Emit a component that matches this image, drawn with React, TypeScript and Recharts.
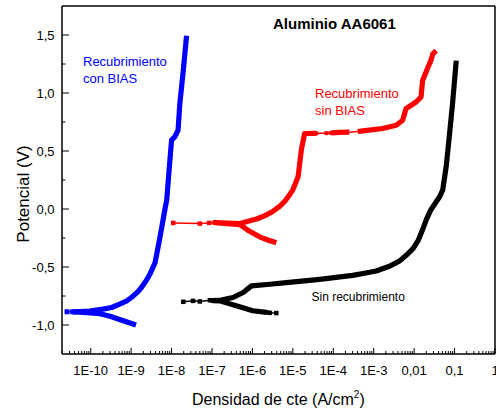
import React from 'react';
import { LineChart, Line, XAxis, YAxis, ReferenceLine } from 'recharts';

const FONT = '"Liberation Sans", Arial, Helvetica, sans-serif';

// ---- Recubrimiento con BIAS (blue) ----
const conBiasCurrent = [1.32e-9, 6.4e-10, 3.0e-10, 1.7e-10, 6.5e-11, 4.1e-11, 9.5e-11, 2.0e-10, 3.3e-10, 5.2e-10, 7.6e-10, 1.02e-9, 1.45e-9, 1.8e-9, 2.35e-9, 2.9e-9, 3.4e-9, 3.9e-9, 4.7e-9, 5.6e-9, 6.6e-9, 7.6e-9, 8.7e-9, 1.0e-8, 1.2e-8, 1.45e-8, 1.6e-8, 1.95e-8, 2.35e-8];
const conBiasPotential = [-1.0, -0.963, -0.925, -0.903, -0.891, -0.887, -0.88, -0.863, -0.849, -0.82, -0.795, -0.763, -0.715, -0.677, -0.619, -0.563, -0.51, -0.463, -0.32, -0.177, -0.034, 0.08, 0.337, 0.594, 0.622, 0.68, 0.908, 1.194, 1.494];
const conBiasSparseCurrent = [4.1e-11, 3.6e-11, 2.6e-11];
const conBiasSparsePotential = [-0.887, -0.886, -0.886];

// ---- Recubrimiento sin BIAS (red) ----
const sinBiasACurrent = [3.9e-6, 2.4e-6, 1.5e-6, 8.5e-7, 4.9e-7, 1.17e-7, 4.9e-7, 1.26e-6, 2.04e-6, 3.2e-6, 4.8e-6, 6.3e-6, 8.3e-6, 1.0e-5, 1.15e-5, 1.35e-5, 1.62e-5, 1.95e-5, 3.8e-5];
const sinBiasAPotential = [-0.291, -0.267, -0.24, -0.192, -0.134, -0.117, -0.125, -0.086, -0.057, -0.021, 0.024, 0.065, 0.123, 0.165, 0.217, 0.279, 0.508, 0.651, 0.652];
const sinBiasGap1Current = [3.8e-5, 6.8e-5, 8.9e-5];
const sinBiasGap1Potential = [0.652, 0.654, 0.656];
const sinBiasBCurrent = [8.9e-5, 1.45e-4, 2.5e-4];
const sinBiasBPotential = [0.656, 0.66, 0.662];
const sinBiasGap2Current = [2.5e-4, 4.0e-4];
const sinBiasGap2Potential = [0.662, 0.668];
const sinBiasCCurrent = [4.0e-4, 5.4e-4, 1.66e-3, 3.6e-3, 5.2e-3, 5.8e-3, 6.3e-3, 1.12e-2, 1.48e-2, 1.62e-2, 2.2e-2, 2.6e-2, 2.9e-2, 3.5e-2];
const sinBiasCPotential = [0.668, 0.674, 0.694, 0.722, 0.765, 0.823, 0.865, 0.922, 0.965, 1.108, 1.222, 1.279, 1.337, 1.365];
const sinBiasSparseCurrent = [1.17e-7, 8.5e-8, 5.0e-8, 1.1e-8];
const sinBiasSparsePotential = [-0.117, -0.12, -0.126, -0.12];

// ---- Sin recubrimiento (black) ----
const sinRecCurrent = [2.24e-6, 1.02e-6, 4.0e-7, 1.55e-7, 1.05e-7, 1.7e-7, 3.3e-7, 5.9e-7, 9.5e-7, 2.7e-6, 6.9e-6, 4.6e-5, 3.0e-4, 5.9e-4, 1.15e-3, 2.45e-3, 4.4e-3, 6.8e-3, 9.5e-3, 1.26e-2, 1.62e-2, 2.0e-2, 2.6e-2, 3.4e-2, 4.3e-2, 5.1e-2, 6.2e-2, 7.4e-2, 8.9e-2, 0.11];
const sinRecPotential = [-0.891, -0.877, -0.835, -0.792, -0.79, -0.785, -0.763, -0.72, -0.663, -0.649, -0.634, -0.606, -0.572, -0.554, -0.535, -0.494, -0.447, -0.39, -0.339, -0.271, -0.177, -0.091, -0.006, 0.054, 0.108, 0.165, 0.365, 0.622, 0.908, 1.279];
const sinRecSparseLeftCurrent = [1.05e-7, 8.9e-8, 5.0e-8, 3.4e-8, 1.95e-8];
const sinRecSparseLeftPotential = [-0.79, -0.786, -0.797, -0.792, -0.8];
const sinRecSparseRightCurrent = [2.24e-6, 2.7e-6, 3.9e-6];
const sinRecSparseRightPotential = [-0.891, -0.895, -0.897];

// ---- Axes ----
const xMajorTicks = [1e-10, 1e-9, 1e-8, 1e-7, 1e-6, 1e-5, 1e-4, 1e-3, 1e-2, 1e-1, 1];
const xTickLabels = ['1E-10', '1E-9', '1E-8', '1E-7', '1E-6', '1E-5', '1E-4', '1E-3', '0,01', '0,1', '1'];
const xDomain = [1.95e-11, 1];
const yMajorTicks = [-1.0, -0.5, 0.0, 0.5, 1.0, 1.5];
const yTickLabels = ['-1,0', '-0,5', '0,0', '0,5', '1,0', '1,5'];
const yMinorTicks = [-0.75, -0.25, 0.25, 0.75, 1.25];
const yDomain = [-1.25, 1.75];

const xMinorTicks: number[] = [];
for (let d = -11; d < 0; d++) {
  for (let m = 2; m <= 9; m++) {
    const v = m * Math.pow(10, d);
    if (v >= xDomain[0] && v <= xDomain[1]) xMinorTicks.push(v);
  }
}
const xAllTicks = [...xMajorTicks, ...xMinorTicks].sort((a, b) => a - b);
const yAllTicks = [...yMajorTicks, ...yMinorTicks].sort((a, b) => a - b);

const zip = (cur: number[], pot: number[]) => cur.map((c, k) => ({ i: c, e: pot[k] }));

const conBiasData = zip(conBiasCurrent, conBiasPotential);
const conBiasSparse = zip(conBiasSparseCurrent, conBiasSparsePotential);
const sinBiasA = zip(sinBiasACurrent, sinBiasAPotential);
const sinBiasGap1 = zip(sinBiasGap1Current, sinBiasGap1Potential);
const sinBiasB = zip(sinBiasBCurrent, sinBiasBPotential);
const sinBiasGap2 = zip(sinBiasGap2Current, sinBiasGap2Potential);
const sinBiasC = zip(sinBiasCCurrent, sinBiasCPotential);
const sinBiasSparse = zip(sinBiasSparseCurrent, sinBiasSparsePotential);
const sinRecData = zip(sinRecCurrent, sinRecPotential);
const sinRecSparseL = zip(sinRecSparseLeftCurrent, sinRecSparseLeftPotential);
const sinRecSparseR = zip(sinRecSparseRightCurrent, sinRecSparseRightPotential);

const XTick = (props: any) => {
  const { x, y, payload } = props;
  const v = payload.value;
  const idx = xMajorTicks.findIndex((t) => Math.abs(v / t - 1) < 1e-6);
  const major = idx >= 0;
  return (
    <g>
      <line x1={x} x2={x} y1={y} y2={y - (major ? 6 : 3)} stroke="#000" strokeWidth={1} />
      {major && (
        <text x={x} y={y + 21} textAnchor="middle" fontFamily={FONT} fontSize={13} fill="#000">
          {xTickLabels[idx]}
        </text>
      )}
    </g>
  );
};

const YTick = (props: any) => {
  const { x, y, payload } = props;
  const v = payload.value;
  const idx = yMajorTicks.findIndex((t) => Math.abs(v - t) < 1e-6);
  const major = idx >= 0;
  return (
    <g>
      <line x1={x} x2={x + (major ? 7 : 3.5)} y1={y} y2={y} stroke="#000" strokeWidth={1} />
      {major && (
        <text x={x - 7.5} y={y + 4.5} textAnchor="end" fontFamily={FONT} fontSize={13} fill="#000">
          {yTickLabels[idx]}
        </text>
      )}
    </g>
  );
};

const square = (color: string, size: number) => (p: any) => {
  if (p.cx == null || p.cy == null) return <g key={`n-${p.index}`} />;
  return (
    <rect
      key={`sq-${p.index}`}
      x={p.cx - size / 2}
      y={p.cy - size / 2}
      width={size}
      height={size}
      fill={color}
      stroke="none"
    />
  );
};

const BLUE = '#0000ff';
const RED = '#ff0000';
const BLACK = '#000000';

export default function App() {
  return (
    <div style={{ position: 'absolute', left: 0, top: 0, width: 496, height: 412, background: '#fff' }}>
      <LineChart width={496} height={412} margin={{ top: 6, right: 1, bottom: 0, left: 0 }}>
        <XAxis
          dataKey="i"
          type="number"
          scale="log"
          domain={xDomain}
          allowDataOverflow
          ticks={xAllTicks}
          interval={0}
          height={58}
          tickSize={0}
          tickMargin={0}
          tickLine={false}
          tick={XTick}
          axisLine={{ stroke: '#000', strokeWidth: 1.5 }}
        />
        <YAxis
          dataKey="e"
          type="number"
          domain={yDomain}
          allowDataOverflow
          ticks={yAllTicks}
          interval={0}
          width={62}
          tickSize={0}
          tickMargin={0}
          tickLine={false}
          tick={YTick}
          axisLine={{ stroke: '#000', strokeWidth: 1.5 }}
        />
        <ReferenceLine y={1.75} stroke="#000" strokeWidth={1.5} ifOverflow="extendDomain" />
        <ReferenceLine x={1} stroke="#000" strokeWidth={1.5} ifOverflow="extendDomain" />

        <Line data={conBiasSparse} dataKey="e" type="linear" stroke={BLUE} strokeWidth={1.5} dot={square(BLUE, 5)} isAnimationActive={false} />
        <Line data={conBiasData} dataKey="e" type="linear" stroke={BLUE} strokeWidth={5.2} strokeLinejoin="round" dot={false} isAnimationActive={false} />

        <Line data={sinBiasSparse} dataKey="e" type="linear" stroke={RED} strokeWidth={1.5} dot={square(RED, 4.5)} isAnimationActive={false} />
        <Line data={sinBiasGap1} dataKey="e" type="linear" stroke={RED} strokeWidth={1.5} dot={square(RED, 4)} isAnimationActive={false} />
        <Line data={sinBiasGap2} dataKey="e" type="linear" stroke={RED} strokeWidth={1.5} dot={false} isAnimationActive={false} />
        <Line data={sinBiasA} dataKey="e" type="linear" stroke={RED} strokeWidth={5.2} strokeLinejoin="round" dot={false} isAnimationActive={false} />
        <Line data={sinBiasB} dataKey="e" type="linear" stroke={RED} strokeWidth={5.2} strokeLinejoin="round" dot={false} isAnimationActive={false} />
        <Line data={sinBiasC} dataKey="e" type="linear" stroke={RED} strokeWidth={5.2} strokeLinejoin="round" dot={false} isAnimationActive={false} />

        <Line data={sinRecSparseL} dataKey="e" type="linear" stroke={BLACK} strokeWidth={1.5} dot={square(BLACK, 4.5)} isAnimationActive={false} />
        <Line data={sinRecSparseR} dataKey="e" type="linear" stroke={BLACK} strokeWidth={1.5} dot={square(BLACK, 4.5)} isAnimationActive={false} />
        <Line data={sinRecData} dataKey="e" type="linear" stroke={BLACK} strokeWidth={5.2} strokeLinejoin="round" dot={false} isAnimationActive={false} />
      </LineChart>
      <svg
        width={496}
        height={412}
        style={{ position: 'absolute', left: 0, top: 0, pointerEvents: 'none' }}
      >
        <text x={273} y={28.5} fontFamily={FONT} fontSize={15} fontWeight="bold" fill="#000">
          Aluminio AA6061
        </text>
        <text x={83} y={66} fontFamily={FONT} fontSize={13} fill={BLUE}>Recubrimiento</text>
        <text x={83} y={83} fontFamily={FONT} fontSize={13} fill={BLUE}>con BIAS</text>
        <text x={315} y={97.5} fontFamily={FONT} fontSize={13} fill={RED}>Recubrimiento</text>
        <text x={315} y={114.5} fontFamily={FONT} fontSize={13} fill={RED}>sin BIAS</text>
        <text x={311.5} y={301} fontFamily={FONT} fontSize={12} fill="#000">Sin recubrimiento</text>
        <text x={192} y={405} fontFamily={FONT} fontSize={16} fill="#000">
          Densidad de cte (A/cm
          <tspan dy={-7} fontSize={10}>2</tspan>
          <tspan dy={7} fontSize={16}>)</tspan>
        </text>
        <text
          transform="translate(28.5,194) rotate(-90)"
          textAnchor="middle"
          fontFamily={FONT}
          fontSize={17}
          fill="#000"
        >
          Potencial (V)
        </text>
      </svg>
    </div>
  );
}
